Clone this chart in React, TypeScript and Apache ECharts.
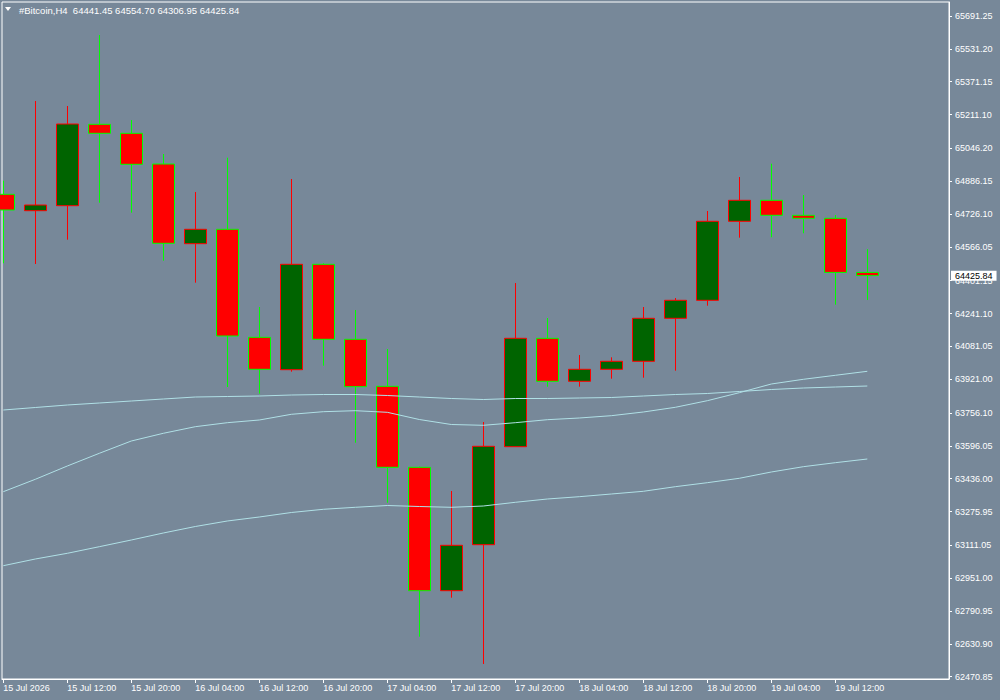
import React, { useEffect, useRef } from "react";
import * as echarts from "echarts";

// H4 candles, index 0 = 15 Jul 2026 04:00
const opens = [64822.21, 64742.28, 64766.65, 65163.39, 65119.53, 64969.89, 64581.44, 64651.62, 64125.23, 63967.31, 64481.03, 64115.48, 63886.40, 63491.61, 62890.16, 63114.36, 63592.01, 64120.36, 63910.77, 63969.26, 64008.25, 64217.84, 64305.57, 64690.61, 64792.97, 64719.86, 64705.24, 64441.45];
const highs = [64888.50, 65276.96, 65252.59, 65598.64, 65184.35, 65018.63, 64833.42, 65000.60, 64272.91, 64896.78, 64485.91, 64258.29, 64068.20, 63495.00, 63376.10, 63712.40, 64389.89, 64219.30, 64038.96, 64027.75, 64272.91, 64316.78, 64740.82, 64906.53, 64971.36, 64818.80, 64721.32, 64554.70];
const lows = [64485.91, 64482.49, 64600.93, 64781.27, 64732.53, 64498.58, 64391.35, 63882.99, 63850.34, 63957.56, 63986.81, 63611.51, 63319.07, 62665.95, 62856.04, 62532.89, 63590.55, 63884.45, 63884.45, 63923.45, 63928.32, 63962.44, 64279.25, 64610.68, 64612.63, 64632.13, 64284.12, 64306.95];
const closes = [64745.69, 64770.06, 65164.85, 65119.53, 64968.43, 64583.39, 64651.62, 64131.57, 63969.26, 64481.03, 64115.48, 63884.45, 63491.61, 62890.16, 63111.44, 63593.96, 64120.36, 63910.77, 63969.26, 64008.25, 64217.84, 64305.57, 64690.61, 64792.97, 64719.86, 64705.24, 64441.45, 64425.84];

// Moving averages
const maSlow = [63770.89, 63783.07, 63795.26, 63805.01, 63814.76, 63824.50, 63834.25, 63836.69, 63839.13, 63844.00, 63846.44, 63846.44, 63841.56, 63834.25, 63826.94, 63822.07, 63826.94, 63826.94, 63829.38, 63831.81, 63839.13, 63846.44, 63851.31, 63861.06, 63870.81, 63878.12, 63882.99, 63887.87];
const maMid = [63372.68, 63433.12, 63497.95, 63559.85, 63619.80, 63657.33, 63689.49, 63708.99, 63722.15, 63749.93, 63762.60, 63767.48, 63759.68, 63724.59, 63700.22, 63696.32, 63708.99, 63723.61, 63731.90, 63743.11, 63761.14, 63784.05, 63816.22, 63855.21, 63897.61, 63920.53, 63940.02, 63959.51];
const maLong = [63012.01, 63044.66, 63072.45, 63104.61, 63137.27, 63171.39, 63203.07, 63229.88, 63249.37, 63271.30, 63286.90, 63296.65, 63305.42, 63300.55, 63296.65, 63302.99, 63321.02, 63337.10, 63348.31, 63361.47, 63374.63, 63397.06, 63416.55, 63438.00, 63468.70, 63494.53, 63514.03, 63532.06];

const xTickIndex = [0, 2, 4, 6, 8, 10, 12, 14, 16, 18, 20, 22, 24, 26];
const xTickLabels = ["15 Jul 2026", "15 Jul 12:00", "15 Jul 20:00", "16 Jul 04:00", "16 Jul 12:00", "16 Jul 20:00", "17 Jul 04:00", "17 Jul 12:00", "17 Jul 20:00", "18 Jul 04:00", "18 Jul 12:00", "18 Jul 20:00", "19 Jul 04:00", "19 Jul 12:00"];
const yTickValues = [65691.25, 65531.2, 65371.15, 65211.1, 65046.2, 64886.15, 64726.1, 64566.05, 64401.15, 64241.1, 64081.05, 63921.0, 63756.1, 63596.05, 63436.0, 63275.95, 63111.05, 62951.0, 62790.95, 62630.9, 62470.85];

const symbolName = "#Bitcoin,H4";

export default function App() {
  const ref = useRef<HTMLDivElement>(null);
  useEffect(() => {
    document.body.style.margin = "0";
    const chart = echarts.init(ref.current!, null, { renderer: "svg" });
    const last = opens.length - 1;
    const font = "Liberation Sans";
    const candleData = opens.map((o, i) => [i, o, closes[i], lows[i], highs[i]]);
    const lineStyle = { color: "#b0e0e6", width: 1 };
    chart.setOption({
      animation: false,
      backgroundColor: "#778899",
      textStyle: { fontFamily: font },
      grid: {
        left: 2,
        top: 2,
        right: 51,
        bottom: 21,
        show: true,
        borderColor: "#ffffff",
        borderWidth: 1,
        backgroundColor: "transparent",
      },
      xAxis: {
        type: "value",
        min: -0.0406,
        max: 29.553,
        splitLine: { show: false },
        axisLine: { show: true, onZero: false, lineStyle: { color: "#ffffff", width: 1 } },
        axisTick: { show: true, length: 4, lineStyle: { color: "#ffffff" }, customValues: xTickIndex },
        axisLabel: {
          show: true,
          customValues: xTickIndex,
          formatter: (v: number) => {
            const k = xTickIndex.indexOf(Math.round(v));
            return k >= 0 ? xTickLabels[k] : "";
          },
          color: "#ffffff",
          fontSize: 9,
          fontFamily: font,
          align: "left",
          margin: 4,
        },
      },
      yAxis: {
        type: "value",
        position: "right",
        min: 62459.79,
        max: 65759.49,
        splitLine: { show: false },
        axisLine: { show: true, onZero: false, lineStyle: { color: "#ffffff", width: 1 } },
        axisTick: { show: true, length: 3, lineStyle: { color: "#ffffff" }, customValues: yTickValues },
        axisLabel: {
          show: true,
          customValues: yTickValues,
          formatter: (v: number) => v.toFixed(2),
          color: "#ffffff",
          fontSize: 9,
          fontFamily: font,
          margin: 6,
        },
      },
      series: [
        {
          type: "candlestick",
          data: candleData,
          barWidth: 23,
          itemStyle: {
            color: "#006400",
            color0: "#ff0000",
            borderColor: "#ff0000",
            borderColor0: "#00ff00",
            borderWidth: 1,
          },
          markLine: {
            silent: true,
            symbol: ["none", "none"],
            lineStyle: { color: "rgba(0,0,0,0)", width: 0, type: "solid" },
            label: {
              show: true,
              position: "end",
              distance: 2,
              formatter: closes[last].toFixed(2),
              backgroundColor: "#ffffff",
              color: "#000000",
              fontSize: 9,
              fontFamily: font,
              padding: [1, 4, 0, 4],
              opacity: 1,
            },
            data: [{ yAxis: closes[last] }],
            z: 20,
          },
        },
        { type: "line", data: maSlow.map((v, i) => [i, v]), showSymbol: false, lineStyle, z: 5 },
        { type: "line", data: maMid.map((v, i) => [i, v]), showSymbol: false, lineStyle, z: 5 },
        { type: "line", data: maLong.map((v, i) => [i, v]), showSymbol: false, lineStyle, z: 5 },
      ],
      graphic: [
        { type: "polygon", shape: { points: [[5, 7], [11, 7], [8, 11]] }, style: { fill: "#ffffff" } },
        {
          type: "text",
          x: 19,
          y: 10,
          style: {
            text: `${symbolName}  ${opens[last].toFixed(2)} ${highs[last].toFixed(2)} ${lows[last].toFixed(2)} ${closes[last].toFixed(2)}`,
            fill: "#ffffff",
            fontSize: 9.5,
            fontFamily: font,
            verticalAlign: "middle",
          },
        },
      ],
    });
    return () => chart.dispose();
  }, []);
  return <div ref={ref} style={{ width: 1000, height: 700 }} />;
}
